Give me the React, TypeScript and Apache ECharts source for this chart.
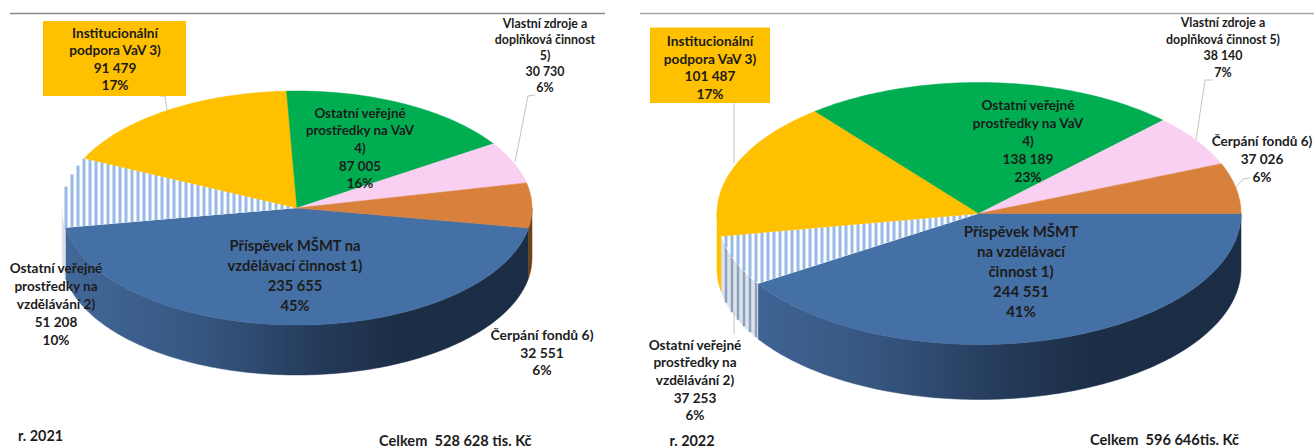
import React, { useEffect, useRef } from "react";
import * as echarts from "echarts";

// ---------- data ----------
const names2021 = [
  "Příspěvek MŠMT na\nvzdělávací činnost 1)",
  "Ostatní veřejné\nprostředky na\nvzdělávání 2)",
  "Institucionální\npodpora VaV 3)",
  "Ostatní veřejné\nprostředky na VaV\n4)",
  "Vlastní zdroje a\ndoplňková činnost\n5)",
  "Čerpání fondů 6)",
];
const values2021 = [235655, 51208, 91479, 87005, 30730, 32551];
const percents2021 = [45, 10, 17, 16, 6, 6];

const names2022 = [
  "Příspěvek MŠMT\nna vzdělávací\nčinnost 1)",
  "Ostatní veřejné\nprostředky na\nvzdělávání 2)",
  "Institucionální\npodpora VaV 3)",
  "Ostatní veřejné\nprostředky na VaV\n4)",
  "Vlastní zdroje a\ndoplňková činnost 5)",
  "Čerpání fondů 6)",
];
const values2022 = [244551, 37253, 101487, 138189, 38140, 37026];
const percents2022 = [41, 6, 17, 23, 7, 6];

const yearLabels = ["r. 2021", "r. 2022"];
const totalLabels = ["Celkem  528 628 tis. Kč", "Celkem  596 646tis. Kč"];

// ---------- styles / layout ----------
const FONT = "Lato";
const INK = "#1c1c1c";
const BLUE = "#4570A5";
const sliceFill = [BLUE, "#ffffff", "#FFC000", "#00AD50", "#F9D0F1", "#D8813D"];
const HATCH_TOP = "#97BAE6";
const HATCH_WALL_BG = "#DCE3EC";
const HATCH_WALL = "#8CA2BF";
const HATCH_STEP = 6;

const pies = [
  { cx: 297, cy: 208, rx: 235, ry: 117, depth: 50, startDeg: -9.8 },
  { cx: 979, cy: 213.5, rx: 262, ry: 131, depth: 55, startDeg: 0 },
];

type Place = { x: number; y: number; size: number; lh: number; box?: number[] };
const places2021: Place[] = [
  { x: 295, y: 275, size: 14.7, lh: 20 },
  { x: 56, y: 304, size: 13.6, lh: 18 },
  { x: 115, y: 59, size: 13.6, lh: 17.5, box: [43, 21, 143, 75] },
  { x: 360, y: 148, size: 13.4, lh: 17.7 },
  { x: 545, y: 55, size: 12.4, lh: 16 },
  { x: 542, y: 352, size: 13.9, lh: 17.5 },
];
const places2022: Place[] = [
  { x: 1021, y: 271, size: 15, lh: 20 },
  { x: 695, y: 380, size: 13.6, lh: 17.6 },
  { x: 710, y: 67, size: 13.7, lh: 17.8, box: [650, 27.5, 120, 75.5] },
  { x: 1028, y: 140.5, size: 13.7, lh: 17.8 },
  { x: 1223, y: 47.5, size: 12.4, lh: 16.4 },
  { x: 1262, y: 159, size: 13.6, lh: 18 },
];

const leaders: number[][][] = [
  [[160, 96], [165, 96], [167, 110]],
  [[535, 95], [528, 96], [515, 162]],
  [[734, 103], [734, 163]],
  [[734, 312], [734, 334]],
  [[1213, 80], [1205, 80], [1196, 140]],
  [[1250, 178], [1243, 179], [1236, 187]],
];
const rules = [
  { x1: 10, x2: 605, stroke: "#8a8a8a" },
  { x1: 640, x2: 1314, stroke: "#a8a8a8" },
];

// ---------- geometry helpers ----------
const rad = (d: number) => (d * Math.PI) / 180;
type Pie = (typeof pies)[number];
const pt = (p: Pie, deg: number, dy = 0): number[] => [
  p.cx + p.rx * Math.cos(rad(deg)),
  p.cy - p.ry * Math.sin(rad(deg)) + dy,
];
const arc = (p: Pie, a: number, b: number, dy = 0) => {
  const n = Math.max(2, Math.ceil(Math.abs(b - a)));
  const out: number[][] = [];
  for (let i = 0; i <= n; i++) out.push(pt(p, a + ((b - a) * i) / n, dy));
  return out;
};

// vertical stripes clipped to a polygon that a vertical line crosses in one span
const stripes = (poly: number[][], color: string, width: number) => {
  const xs = poly.map((q) => q[0]);
  const lo = Math.ceil(Math.min(...xs) / HATCH_STEP) * HATCH_STEP;
  const hi = Math.max(...xs);
  const out: any[] = [];
  for (let x = lo; x <= hi; x += HATCH_STEP) {
    const ys: number[] = [];
    poly.forEach((a, i) => {
      const b = poly[(i + 1) % poly.length];
      if ((a[0] <= x && b[0] > x) || (b[0] <= x && a[0] > x)) {
        ys.push(a[1] + ((x - a[0]) / (b[0] - a[0])) * (b[1] - a[1]));
      }
    });
    if (ys.length >= 2) {
      out.push({
        type: "line",
        shape: { x1: x, y1: Math.min(...ys), x2: x, y2: Math.max(...ys) },
        style: { stroke: color, lineWidth: width },
      });
    }
  }
  return out;
};

const wallFill = (p: Pie, i: number) => {
  if (i === 0) {
    return new echarts.graphic.LinearGradient(
      p.cx - p.rx, 0, p.cx + p.rx, 0,
      [
        { offset: 0, color: "#42689A" },
        { offset: 0.3, color: "#365680" },
        { offset: 0.55, color: "#243A59" },
        { offset: 0.72, color: "#1C2E46" },
        { offset: 1, color: "#1B2D44" },
      ],
      true
    );
  }
  if (i === 1) return HATCH_WALL_BG;
  if (i === 5) return "#6E4119";
  return sliceFill[i];
};

const makeSeries = (values: number[], p: Pie, id: string) => {
  const total = values.reduce((s, v) => s + v, 0);
  const bounds: number[] = [p.startDeg];
  values.forEach((v, i) => bounds.push(bounds[i] - (v / total) * 360));
  return {
    type: "custom",
    id,
    coordinateSystem: "none",
    silent: true,
    clip: false,
    data: values,
    renderItem: (params: any) => {
      const i = params.dataIndex;
      const a = bounds[i];
      const b = bounds[i + 1];
      const fill = sliceFill[i];
      const children: any[] = [];

      // outer wall, only the part on the front half of the ellipse
      const visible: number[][] = [];
      for (const k of [0, -1]) {
        const from = Math.min(a - 360 * k, 0);
        const to = Math.max(b - 360 * k, -180);
        if (from > to) visible.push([from, to]);
      }
      visible.forEach(([from, to]) => {
        const poly = [...arc(p, from, to), ...arc(p, to, from, p.depth)];
        const wf = wallFill(p, i);
        children.push({
          type: "polygon",
          z2: 1,
          shape: { points: poly },
          style: { fill: wf, stroke: wf, lineWidth: 0.5 },
        });
        if (i === 1) {
          stripes(poly, HATCH_WALL, 2.5).forEach((s) => children.push({ ...s, z2: 1 }));
        }
      });

      // top face
      const wedge = [[p.cx, p.cy], ...arc(p, a, b)];
      children.push({
        type: "polygon",
        z2: 2,
        shape: { points: wedge },
        style: { fill, stroke: i === 1 ? "none" : fill, lineWidth: 0.5 },
      });
      if (i === 1) {
        stripes(wedge, HATCH_TOP, 3).forEach((s) => children.push({ ...s, z2: 2 }));
      }
      return { type: "group", children };
    },
  };
};

const fmt = (v: number) => String(v).replace(/\B(?=(\d{3})+$)/g, " ");

const makeLabels = (names: string[], values: number[], percents: number[], places: Place[]) => {
  const out: any[] = [];
  names.forEach((name, i) => {
    const pl = places[i];
    if (pl.box) {
      out.push({
        type: "rect",
        z: 20,
        shape: { x: pl.box[0], y: pl.box[1], width: pl.box[2], height: pl.box[3] },
        style: { fill: sliceFill[i] },
      });
    }
    out.push({
      type: "text",
      z: 30,
      x: pl.x,
      y: pl.y,
      style: {
        text: `${name}\n${fmt(values[i])}\n${percents[i]}%`,
        font: `bold ${pl.size}px ${FONT}`,
        lineHeight: pl.lh,
        fill: INK,
        align: "center",
        verticalAlign: "middle",
      },
    });
  });
  return out;
};

export default function App() {
  const ref = useRef<HTMLDivElement>(null);
  useEffect(() => {
    if (!ref.current) return;
    const chart = echarts.init(ref.current, undefined, { renderer: "svg" });
    const footer = (text: string, x: number, y: number, align: string, size: number) => ({
      type: "text",
      z: 30,
      x,
      y,
      style: { text, font: `bold ${size}px ${FONT}`, fill: INK, align, verticalAlign: "middle" },
    });
    chart.setOption({
      animation: false,
      backgroundColor: "#ffffff",
      series: [
        makeSeries(values2021, pies[0], "pie2021"),
        makeSeries(values2022, pies[1], "pie2022"),
      ],
      graphic: {
        elements: [
          ...rules.map((r) => ({
            type: "line",
            z: 5,
            shape: { x1: r.x1, y1: 13.5, x2: r.x2, y2: 13.5 },
            style: { stroke: r.stroke, lineWidth: 1.5 },
          })),
          ...leaders.map((points) => ({
            type: "polyline",
            z: 5,
            shape: { points },
            style: { stroke: "#c4c4c4", lineWidth: 1, fill: "none" },
          })),
          ...makeLabels(names2021, values2021, percents2021, places2021),
          ...makeLabels(names2022, values2022, percents2022, places2022),
          footer(yearLabels[0], 18, 435, "left", 14.4),
          footer(yearLabels[1], 692, 440, "center", 14.4),
          footer(totalLabels[0], 379, 440, "left", 14.6),
          footer(totalLabels[1], 1090, 439, "left", 14.6),
        ],
      },
    });
    return () => chart.dispose();
  }, []);
  return (
    <div
      ref={ref}
      style={{ position: "absolute", left: 0, top: 0, width: 1314, height: 448 }}
    />
  );
}
